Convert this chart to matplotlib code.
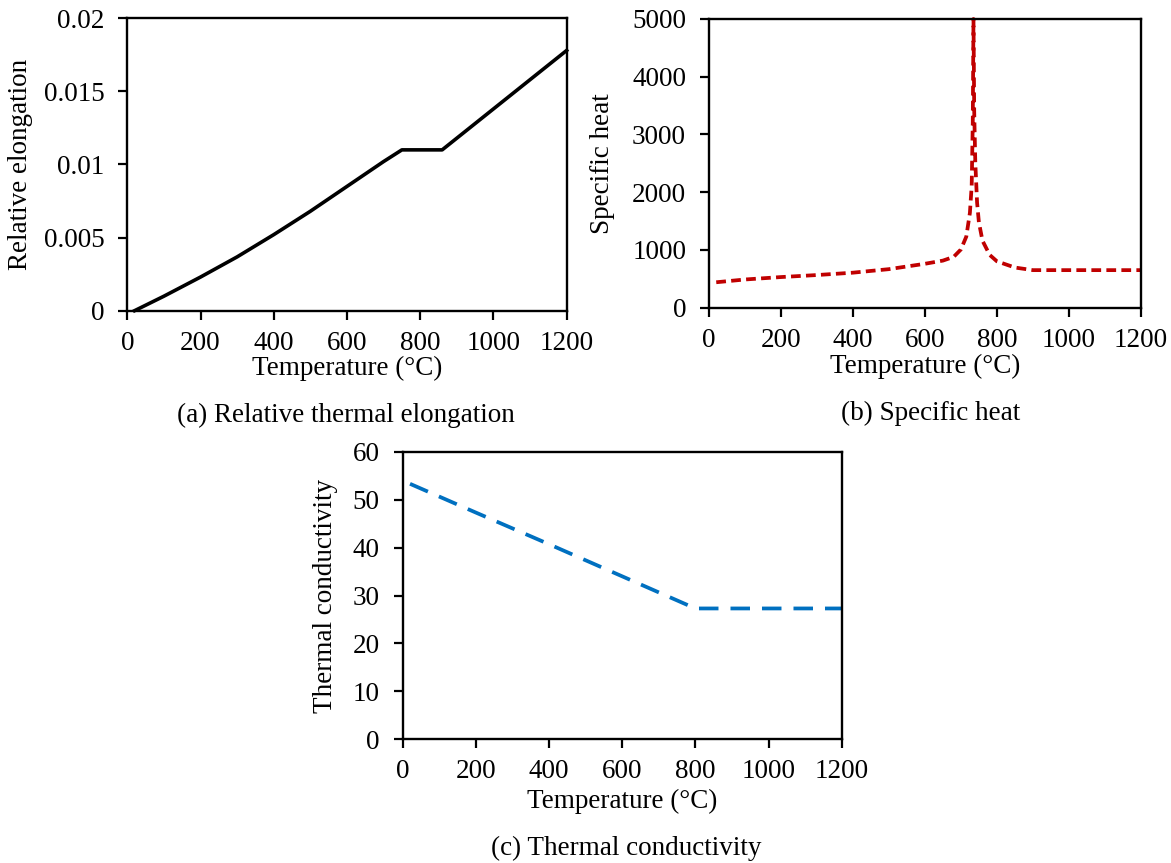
import matplotlib.pyplot as plt

plt.rcParams['font.family'] = ['Liberation Serif', 'DejaVu Serif']

# (a) relative thermal elongation
temp_a = [20, 100, 200, 300, 400, 500, 600, 700, 750, 860, 900, 1000, 1100, 1200]
elong = [0.0, 0.00099, 0.00230, 0.00368, 0.00520, 0.00680, 0.00850, 0.01020, 0.0110,
         0.0110, 0.0118, 0.0138, 0.0158, 0.0178]

# (b) specific heat
temp_b = [20, 100, 200, 300, 400, 500, 600, 650, 680, 700, 715, 725, 730, 733, 735,
          737, 740, 745, 750, 760, 780, 800, 850, 900, 1000, 1100, 1200]
cp = [440, 488, 530, 565, 606, 667, 760, 815, 880, 1008, 1230, 1640, 2110, 3200, 5000,
      3400, 2520, 1820, 1480, 1160, 914, 803, 695, 650, 650, 650, 650]

# (c) thermal conductivity
temp_c = [20, 200, 400, 600, 800, 1000, 1200]
cond = [53.3, 47.3, 40.7, 34.0, 27.3, 27.3, 27.3]

xticks = [0, 200, 400, 600, 800, 1000, 1200]
FS = 19.5
W, H = 1171, 863


def style_axis(ax, ylim, yticks, ylabel, yfmt, ylab_px, xlab_px):
    ax.set_xlim(0, 1200)
    ax.set_ylim(*ylim)
    ax.set_xticks(xticks)
    ax.set_yticks(yticks)
    ax.set_yticklabels([yfmt(v) for v in yticks])
    ax.tick_params(direction='out', length=6.5, width=1.6, labelsize=FS)
    ax.tick_params(axis='x', pad=8)
    ax.tick_params(axis='y', pad=10)
    for s in ax.spines.values():
        s.set_linewidth(1.7)
    ax.set_xlabel('Temperature (°C)', fontsize=FS, va='center')
    ax.set_ylabel(ylabel, fontsize=FS, va='center')
    # label offsets in pixels from the spines
    pos = ax.get_position()
    ax.yaxis.set_label_coords(ylab_px / (pos.width * W), 0.5)
    ax.xaxis.set_label_coords(0.5, xlab_px / (pos.height * H))


fig = plt.figure(figsize=(11.71, 8.63), dpi=100)

ax1 = fig.add_axes([0.1087, 0.640, 0.3752, 0.3388])
ax1.plot(temp_a, elong, color='black', lw=2.6, clip_on=False)
style_axis(ax1, (0, 0.02), [0, 0.005, 0.01, 0.015, 0.02], 'Relative elongation',
           lambda v: '0' if v == 0 else f'{v:g}', -107, -58)

ax2 = fig.add_axes([0.6055, 0.6435, 0.3687, 0.3345])
ax2.plot(temp_b, cp, color='#C00000', lw=2.7, dashes=(2.6, 1.4), clip_on=False)
style_axis(ax2, (0, 5000), [0, 1000, 2000, 3000, 4000, 5000], 'Specific heat',
           lambda v: f'{v:d}', -107, -59)

ax3 = fig.add_axes([0.3439, 0.1433, 0.3749, 0.3333])
ax3.plot(temp_c, cond, color='#0070C0', lw=2.7, dashes=(5.2, 3.2), clip_on=False)
style_axis(ax3, (0, 60), [0, 10, 20, 30, 40, 50, 60], 'Thermal conductivity',
           lambda v: f'{v:d}', -77, -62)

fig.text(346 / W, 1 - 415 / H, '(a) Relative thermal elongation', fontsize=FS,
         ha='center', va='center')
fig.text(931 / W, 1 - 413 / H, '(b) Specific heat', fontsize=FS,
         ha='center', va='center')
fig.text(626 / W, 1 - 848 / H, '(c) Thermal conductivity', fontsize=FS,
         ha='center', va='center')

fig.savefig('out.png', dpi=100)
